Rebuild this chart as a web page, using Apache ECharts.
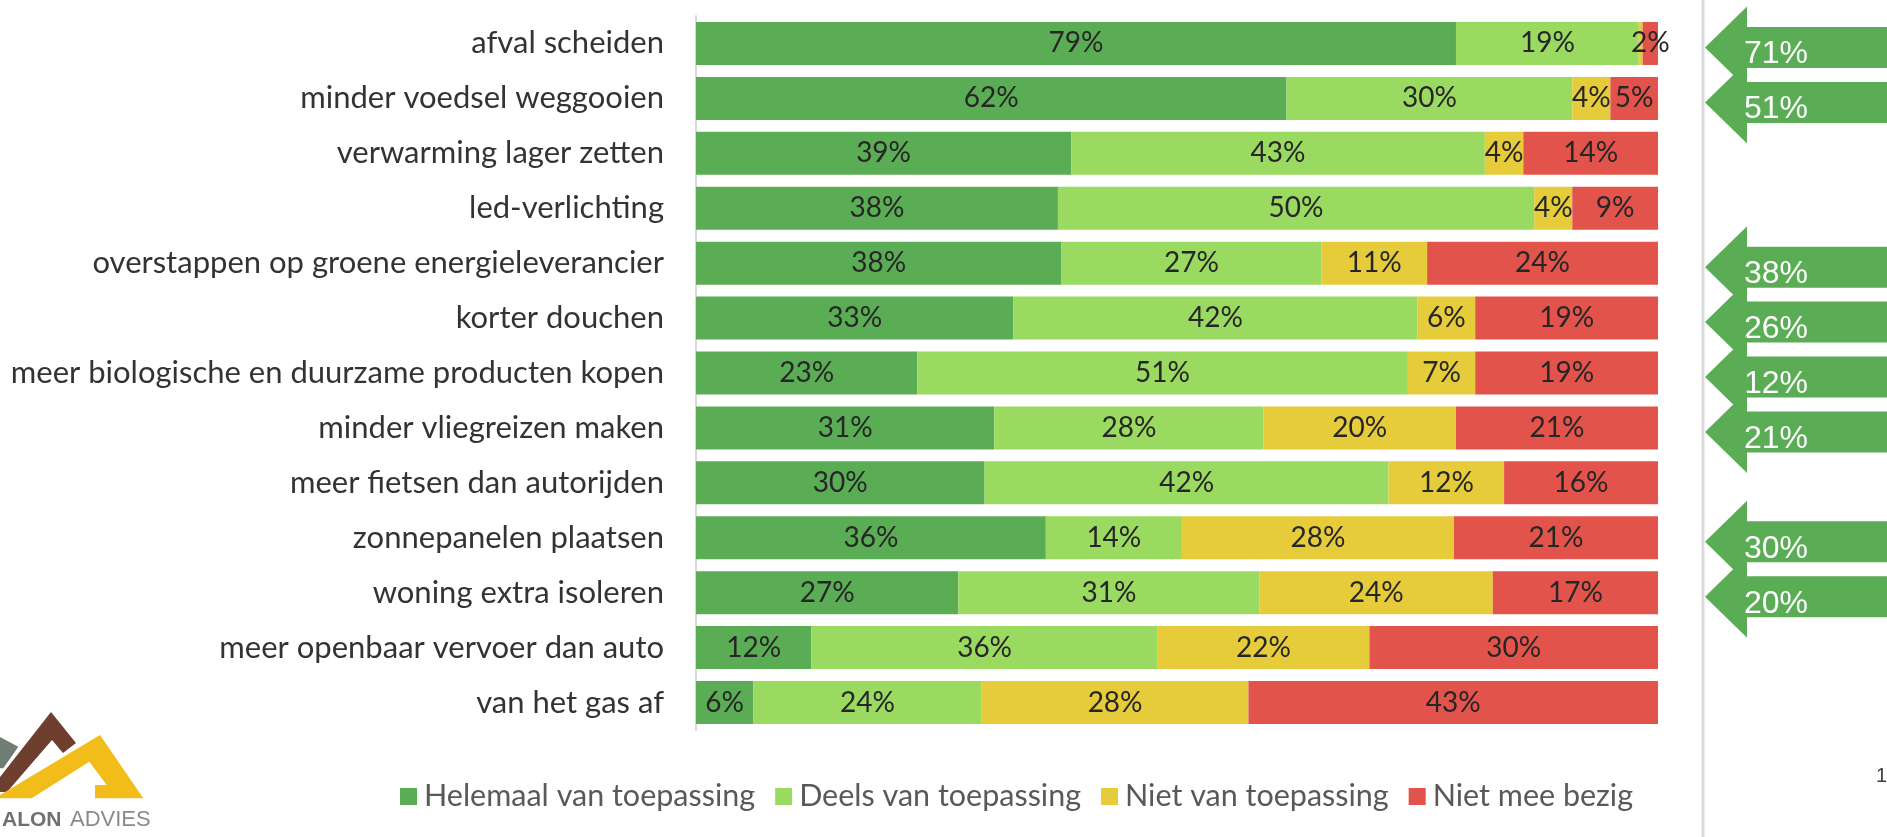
<!DOCTYPE html>
<html>
<head>
<meta charset="utf-8">
<script src="https://cdn.jsdelivr.net/npm/echarts@6/dist/echarts.min.js"></script>
<style>
html,body{margin:0;padding:0;background:#fff;}
#chart{width:1887px;height:837px;}
</style>
</head>
<body>
<div id="chart"></div>
<script>
// ---- data ----
const categories = [
  'afval scheiden',
  'minder voedsel weggooien',
  'verwarming lager zetten',
  'led-verlichting',
  'overstappen op groene energieleverancier',
  'korter douchen',
  'meer biologische en duurzame producten kopen',
  'minder vliegreizen maken',
  'meer fietsen dan autorijden',
  'zonnepanelen plaatsen',
  'woning extra isoleren',
  'meer openbaar vervoer dan auto',
  'van het gas af'
];
const seriesNames = ['Helemaal van toepassing', 'Deels van toepassing', 'Niet van toepassing', 'Niet mee bezig'];
const helemaal = [79, 62, 39, 38, 38, 33, 23, 31, 30, 36, 27, 12, 6];
const deels    = [19, 30, 43, 50, 27, 42, 51, 28, 42, 14, 31, 36, 24];
const niet     = [0.4, 4, 4, 4, 11, 6, 7, 20, 12, 28, 24, 22, 28];
const nietMee  = [1.6, 5, 14, 9, 24, 19, 19, 21, 16, 21, 17, 30, 43];
const arrowRows   = ['afval scheiden', 'minder voedsel weggooien', 'overstappen op groene energieleverancier', 'korter douchen', 'meer biologische en duurzame producten kopen', 'minder vliegreizen maken', 'zonnepanelen plaatsen', 'woning extra isoleren'];
const arrowValues = [71, 51, 38, 26, 12, 21, 30, 20];

// ---- styling ----
const colors = ['#5BAD55', '#9BDA61', '#E6CB3B', '#E2534B'];
const allSeries = [helemaal, deels, niet, nietMee];
const totals = categories.map((c, i) => allSeries.reduce((s, a) => s + a[i], 0));

const chart = echarts.init(document.getElementById('chart'), null, {renderer: 'canvas'});

const barSeries = allSeries.map((arr, si) => ({
  name: seriesNames[si],
  type: 'bar',
  stack: 'total',
  barCategoryGap: '21.7%',
  itemStyle: {color: colors[si]},
  label: {
    show: true,
    position: 'inside',
    color: '#262626',
    fontFamily: 'Lato',
    fontSize: 28,
    formatter: p => {
      const r = Math.round(p.data.raw);
      return r >= 1 ? r + '%' : '';
    }
  },
  emphasis: {disabled: true},
  data: arr.map((v, i) => ({value: v / totals[i] * 100, raw: v}))
}));

const arrowSeries = {
  type: 'custom',
  name: 'arrows',
  clip: false,
  silent: true,
  z: 5,
  encode: {x: 0, y: 1},
  data: arrowRows.map((c, i) => [0, c, arrowValues[i]]),
  renderItem: (params, api) => {
    const cy = api.coord([0, api.value(1)])[1] + 4;
    const tipX = 1705, baseX = 1747, endX = 1895, hh = 41, sh = 20.5;
    return {
      type: 'group',
      children: [
        {
          type: 'polygon',
          shape: {points: [[tipX, cy], [baseX, cy - hh], [baseX, cy - sh], [endX, cy - sh], [endX, cy + sh], [baseX, cy + sh], [baseX, cy + hh]]},
          style: {fill: '#5BAD55'}
        },
        {
          type: 'text',
          style: {
            text: api.value(2) + '%',
            x: 1744, y: cy + 7,
            fill: '#fff',
            font: '32px "Liberation Sans", Arial, sans-serif',
            textVerticalAlign: 'middle',
            textAlign: 'left'
          }
        }
      ]
    };
  }
};

const option = {
  backgroundColor: '#fff',
  animation: false,
  grid: {left: 696, right: 229, top: 16, bottom: 107, containLabel: false},
  xAxis: [{type: 'value', min: 0, max: 100, show: false}],
  yAxis: [{
    type: 'category',
    inverse: true,
    data: categories,
    axisLine: {show: true, lineStyle: {color: '#d9d9d9', width: 2}},
    axisTick: {show: false},
    axisLabel: {margin: 32, fontSize: 31, fontFamily: 'Lato', color: '#333333'}
  }],
  legend: {
    data: seriesNames,
    left: 395,
    top: 776,
    itemWidth: 17,
    itemHeight: 17,
    itemGap: 20,
    icon: 'rect',
    textStyle: {fontSize: 30.5, fontFamily: 'Lato', color: '#595959', padding: [0, 0, 0, 2]}
  },
  graphic: [
    {type: 'line', shape: {x1: 1703, y1: 0, x2: 1703, y2: 837}, style: {stroke: '#dcdcdc', lineWidth: 3}, silent: true},
    {type: 'polygon', shape: {points: [[0, 737], [18.3, 746.7], [3.3, 768.3], [0, 768.3]]}, style: {fill: '#6F7D75'}},
    {type: 'polygon', shape: {points: [[0, 777], [51, 712], [76, 743], [63, 753], [52, 740], [7, 792], [0, 792]]}, style: {fill: '#6E3F2F'}},
    {type: 'polygon', shape: {points: [[0, 795], [100, 735], [143.3, 798.3], [95, 798.3], [95, 785], [106.7, 785], [89.3, 761.7], [31.7, 798.3], [0, 798.3]]}, style: {fill: '#F2BD1B'}},
    {type: 'text', left: 2, top: 810, style: {text: 'ALON', font: 'bold 21px "Liberation Sans", Arial, sans-serif', fill: '#707070'}},
    {type: 'text', left: 70, top: 809, style: {text: 'ADVIES', font: '22px "Liberation Sans", Arial, sans-serif', fill: '#8a8a8a'}},
    {type: 'text', left: 1876, top: 766, style: {text: '17', font: '20px "Liberation Sans", Arial, sans-serif', fill: '#404040'}}
  ],
  series: [...barSeries, arrowSeries]
};
chart.setOption(option);
</script>
</body>
</html>
